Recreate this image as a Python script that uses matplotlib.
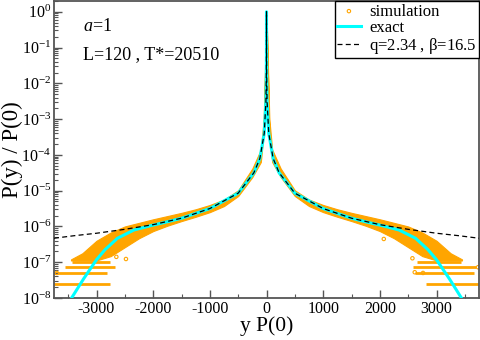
import numpy as np
import matplotlib
matplotlib.use('Agg')
import matplotlib.pyplot as plt
from matplotlib.ticker import MultipleLocator, LogLocator, FixedLocator, FuncFormatter, NullFormatter

plt.rcParams['font.family'] = 'Liberation Serif'
plt.rcParams['mathtext.fontset'] = 'custom'
plt.rcParams['mathtext.rm'] = 'Liberation Serif'
plt.rcParams['mathtext.it'] = 'Liberation Serif:italic'
plt.rcParams['axes.unicode_minus'] = False

# curves, right half only (the plot is symmetric)
# values are log10 of P(y)/P(0)
exact_x = [0, 1, 3, 10, 40, 117, 223, 500, 1000, 1500, 1750, 2050, 2340, 2630, 2850, 3000, 3230, 3440, 3520]
exact_log = [0, -1.05, -1.75, -2.5, -3.4, -4.1, -4.5, -5.07, -5.5, -5.77, -5.87, -5.98, -6.1, -6.33,
             -6.65, -6.93, -7.47, -8.0, -8.25]

fit_x = [0, 1, 3, 10, 40, 117, 223, 500, 1000, 1500, 2000, 2500, 3000, 3400, 3750]
fit_log = [0, -1.05, -1.75, -2.5, -3.4, -4.1, -4.5, -5.07, -5.5, -5.77, -5.95, -6.08, -6.19, -6.26, -6.33]

# simulation cloud: upper / lower edge of the orange band
cloud_x = [0, 50, 100, 250, 500, 750, 1000, 1250, 1500, 1750, 2000, 2250, 2500, 2750, 3000, 3250, 3450]
cloud_hi = [0.0, -3.0, -3.85, -4.38, -4.99, -5.25, -5.4, -5.52, -5.62, -5.71, -5.8, -5.9, -6.0, -6.17,
            -6.4, -6.75, -6.92]
cloud_lo = [0.0, -3.4, -4.2, -4.62, -5.15, -5.43, -5.6, -5.73, -5.85, -5.98, -6.13, -6.33, -6.58, -6.83,
            -6.95, -6.95, -6.95]

# discrete count levels in the tails (rows of points)
row_level = [2.5e-8, 5e-8, 7.5e-8, 1e-7]
row_left_start = [-3750, -3750, -3560, -3440]
row_left_end = [-2760, -2820, -2680, -2760]
row_right_start = [2810, 2620, 2590, 2650]
row_right_end = [3750, 3670, 3700, 3440]

# a few stray points
out_x = [-2480, -2650, 2070, 2575, 2616, 2762, 3733, -3700]
out_log = [-6.91, -6.85, -6.35, -6.89, -7.28, -7.3, -7.14, -7.3]

y_decades = [-8, -7, -6, -5, -4, -3, -2, -1, 0]


def mirror(x, v):
    x = np.asarray(x, float)
    v = np.asarray(v, float)
    return np.concatenate([-x[:0:-1], x]), np.concatenate([v[:0:-1], v])


orange = '#ffa500'
cyan = '#00ffff'

fig = plt.figure(figsize=(4.81, 3.40), dpi=100)
ax = fig.add_axes([54 / 481, 42 / 340, 425 / 481, 297 / 340])

cx, chi = mirror(cloud_x, cloud_hi)
_, clo = mirror(cloud_x, cloud_lo)
ax.fill_between(cx, 10 ** clo, 10 ** chi, color=orange, lw=0.8, edgecolor=orange, zorder=1)

for i in range(len(row_level)):  # rows of points at 1, 2, 3, 4 counts
    ax.hlines(row_level[i], row_left_start[i], row_left_end[i], color=orange, lw=2.0, zorder=1)
    ax.hlines(row_level[i], row_right_start[i], row_right_end[i], color=orange, lw=2.0, zorder=1)

ax.scatter(out_x, 10 ** np.array(out_log), s=6, marker='o', facecolors='none',
           edgecolors=orange, linewidths=0.8, label='simulation', zorder=2)

ex, ev = mirror(exact_x, exact_log)
ax.plot(ex, 10 ** ev, color=cyan, lw=2.2, label='exact', zorder=3)

fx, fv = mirror(fit_x, fit_log)
ax.plot(fx, 10 ** fv, color='black', lw=0.9, dashes=(4, 2.6), label=r'q=2.34 , $\mathregular{\beta}$=16.5', zorder=4)

ax.set_yscale('log')
ax.set_xlim(-3750, 3750)
ax.set_ylim(1e-8, 2.0)

ax.xaxis.set_major_locator(MultipleLocator(1000))
ax.xaxis.set_minor_locator(MultipleLocator(500))
ax.yaxis.set_major_locator(FixedLocator([10.0 ** d for d in y_decades]))
ax.yaxis.set_minor_locator(LogLocator(base=10, subs=np.arange(2, 10), numticks=20))
ax.yaxis.set_minor_formatter(NullFormatter())
ax.yaxis.set_major_formatter(FuncFormatter(lambda v, p: r'$\mathregular{10^{%d}}$' % round(np.log10(v))))

spine_col = '#555555'
for s in ax.spines.values():
    s.set_color(spine_col)
    s.set_linewidth(1.3)
ax.tick_params(which='both', direction='in', top=False, right=False, color=spine_col, labelsize=11.5)
ax.tick_params(which='major', length=6, width=1.0)
ax.tick_params(which='minor', length=3, width=0.8)
ax.tick_params(axis='x', pad=2)
ax.tick_params(axis='y', pad=2)

ax.set_xlabel('y P(0)', fontsize=15.5)
ax.set_ylabel('P(y) / P(0)', fontsize=16.5)
ax.xaxis.set_label_coords(0.5, -0.062)
ax.yaxis.set_label_coords(-0.072, 0.5)

ax.text(0.068, 0.915, r'$a$=1', transform=ax.transAxes, fontsize=13, va='center')
ax.text(0.068, 0.82, 'L=120 , T*=20510', transform=ax.transAxes, fontsize=13, va='center')

leg = ax.legend(loc='upper right', fontsize=12, frameon=True, fancybox=False, scatterpoints=1,
                borderaxespad=0.0, labelspacing=0.0, handlelength=1.4, handletextpad=0.5,
                borderpad=0.15, markerscale=1.0)
leg.get_frame().set_edgecolor('black')
leg.get_frame().set_linewidth(1.0)
leg.get_frame().set_alpha(1)

fig.savefig('out.png', dpi=100)
